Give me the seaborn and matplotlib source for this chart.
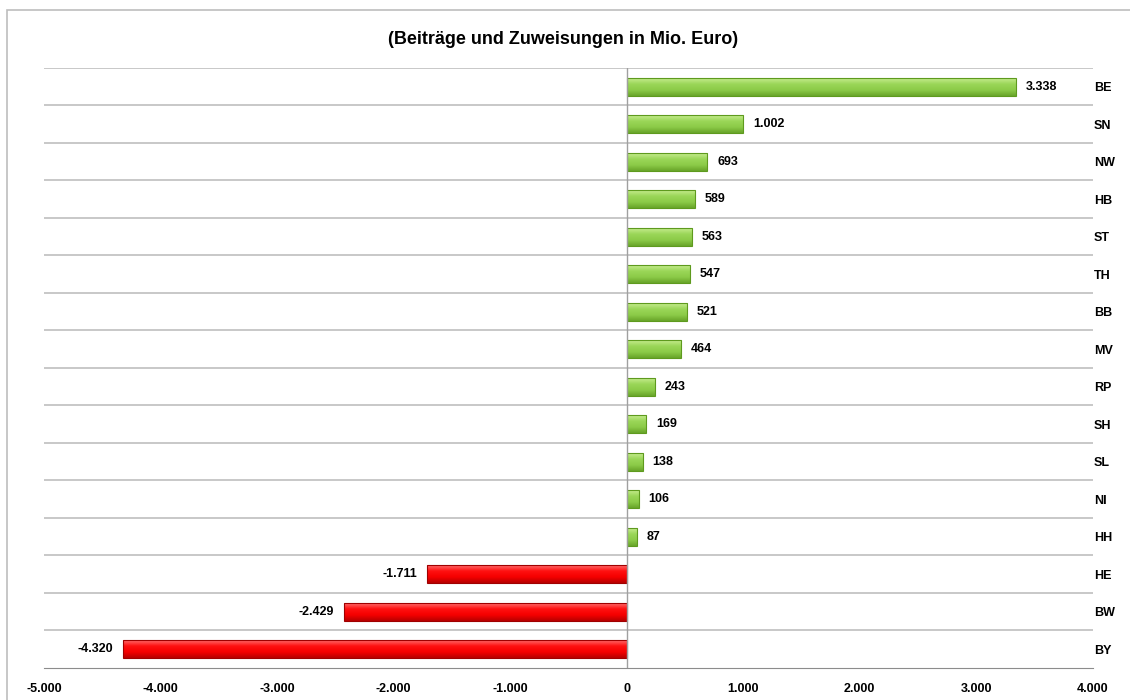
import numpy as np
import pandas as pd
import matplotlib.pyplot as plt
from matplotlib.patches import Rectangle
from matplotlib.colors import LinearSegmentedColormap
import seaborn as sns

# Daten (Mio. Euro)
laender = ['BE', 'SN', 'NW', 'HB', 'ST', 'TH', 'BB', 'MV', 'RP', 'SH', 'SL', 'NI', 'HH', 'HE', 'BW', 'BY']
werte = [3338, 1002, 693, 589, 563, 547, 521, 464, 243, 169, 138, 106, 87, -1711, -2429, -4320]
x_ticks = [-5000, -4000, -3000, -2000, -1000, 0, 1000, 2000, 3000, 4000]
x_labels = ['-5.000', '-4.000', '-3.000', '-2.000', '-1.000', '0', '1.000', '2.000', '3.000', '4.000']

df = pd.DataFrame({'land': laender, 'wert': werte})
df['typ'] = np.where(df['wert'] >= 0, 'plus', 'minus')

sns.set_style('white')
plt.rcParams['font.family'] = ['Liberation Sans', 'DejaVu Sans']
plt.rcParams['text.color'] = 'black'
plt.rcParams['xtick.labelcolor'] = 'black'
plt.rcParams['ytick.labelcolor'] = 'black'

fig = plt.figure(figsize=(11.3, 7), dpi=100)
ax = fig.add_axes([0.039, 0.046, 0.928, 0.857])

sns.barplot(data=df, x='wert', y='land', hue='typ', orient='h',
            palette={'plus': '#92D050', 'minus': '#FF0000'}, saturation=1,
            dodge=False, legend=False, width=0.48, ax=ax)

# Farbverlauf + Rahmen der Balken
gruen = LinearSegmentedColormap.from_list('g', ['#C6EC8E', '#9AD658', '#8CCB48', '#68A52A'])
rot = LinearSegmentedColormap.from_list('r', ['#FF6A6A', '#FF1010', '#F50000', '#B80000'])
verlauf = np.linspace(0, 1, 64).reshape(-1, 1)
for bar in list(ax.patches):
    x0, y0 = bar.get_x(), bar.get_y()
    w, h = bar.get_width(), bar.get_height()
    cmap = gruen if w >= 0 else rot
    img = ax.imshow(verlauf, cmap=cmap, aspect='auto', interpolation='bilinear',
                    extent=(x0, x0 + w, y0 + h, y0), zorder=bar.get_zorder() + 0.1)
    img.set_clip_path(bar)
    bar.set_edgecolor('#5E9A1E' if w >= 0 else '#A00000')
    bar.set_linewidth(0.8)
    bar.set_facecolor('none')
    bar.set_zorder(bar.get_zorder() + 0.2)

# Werte an die Balken
for i, v in enumerate(werte):
    txt = f'{v:,}'.replace(',', '.')
    if v >= 0:
        ax.annotate(txt, (v, i), xytext=(7, 0), textcoords='offset points',
                    ha='left', va='center', fontsize=9, fontweight='bold')
    else:
        ax.annotate(txt, (v, i), xytext=(-7, 0), textcoords='offset points',
                    ha='right', va='center', fontsize=9, fontweight='bold')

ax.set_xlim(-5000, 4000)
ax.set_ylim(len(laender) - 0.5, -0.5)
ax.set_xticks(x_ticks)
ax.set_xticklabels(x_labels, fontsize=9, fontweight='bold')

# Kategorien rechts
ax.yaxis.tick_right()
ax.set_yticks(range(len(laender)))
ax.set_yticklabels(laender, fontsize=9, fontweight='bold')
ax.set_yticks(np.arange(-0.5, len(laender) - 1, 1), minor=True)
ax.grid(which='minor', axis='y', color='#C4C4C4', linewidth=1.3)
ax.tick_params(axis='y', which='both', length=0, pad=1)
ax.tick_params(axis='x', direction='out', length=5, color='#8C8C8C', width=1, pad=6)

ax.axvline(0, color='#A0A0A0', linewidth=1)
for s in ['left', 'right', 'top']:
    ax.spines[s].set_visible(False)
ax.spines['bottom'].set_color('#8C8C8C')

ax.set_xlabel('')
ax.set_ylabel('')
fig.text(0.498, 0.943, '(Beiträge und Zuweisungen in Mio. Euro)',
         ha='center', va='center', fontsize=13, fontweight='bold')

# Rahmen des Diagramms
fig.patches.append(Rectangle((7 / 1130, -0.1), 1.2, 1.1 - 10 / 700, transform=fig.transFigure,
                             fill=False, edgecolor='#BDBDBD', linewidth=1.2))

plt.savefig('out.png', dpi=100)
